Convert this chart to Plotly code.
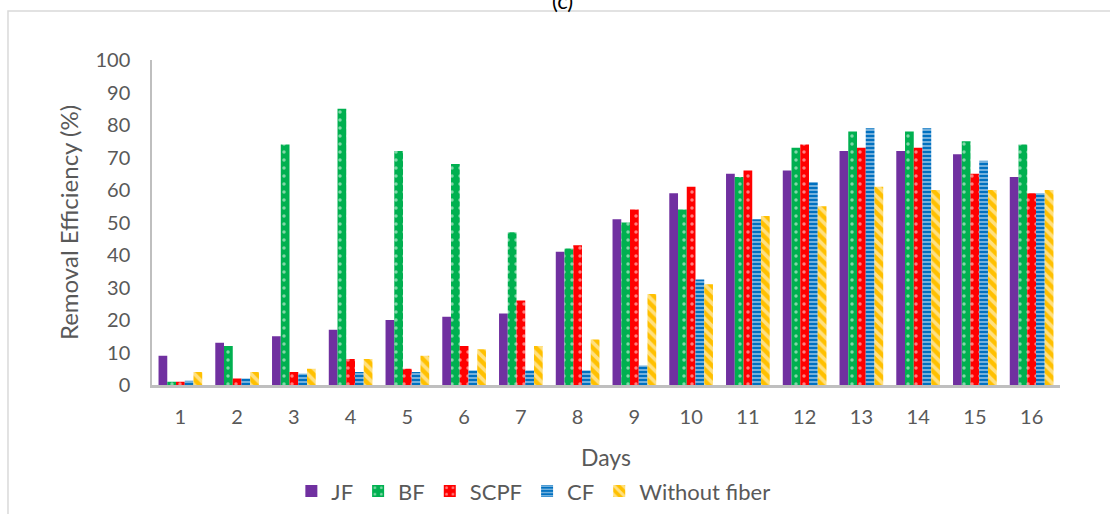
import plotly.graph_objects as go

days = [str(d) for d in range(1, 17)]
jf = [9, 13, 15, 17, 20, 21, 22, 41, 51, 59, 65, 66, 72, 72, 71, 64]
bf = [1, 12, 74, 85, 72, 68, 47, 42, 50, 54, 64, 73, 78, 78, 75, 74]
scpf = [1, 2, 4, 8, 5, 12, 26, 43, 54, 61, 66, 74, 73, 73, 65, 59]
cf = [1.3, 2, 3.5, 4, 4, 4.5, 4.5, 4.5, 6, 32.5, 51, 62.5, 79, 79, 69, 59]
without_fiber = [4, 4, 5, 8, 9, 11, 12, 14, 28, 31, 52, 55, 61, 60, 60, 60]
y_ticks = [0, 10, 20, 30, 40, 50, 60, 70, 80, 90, 100]

FONT = "Lato, Open Sans, sans-serif"
GRAY = "#595959"

fig = go.Figure()
fig.add_bar(x=days, y=jf, name="JF", marker=dict(color="#7030A0", line=dict(width=0)))
fig.add_bar(x=days, y=bf, name="BF",
            marker=dict(color="#00B050", line=dict(width=0),
                        pattern=dict(shape=".", fgcolor="white", size=8, solidity=0.15)))
fig.add_bar(x=days, y=scpf, name="SCPF",
            marker=dict(color="#FF0000", line=dict(width=0),
                        pattern=dict(shape=".", fgcolor="white", size=8, solidity=0.15)))
fig.add_bar(x=days, y=cf, name="CF",
            marker=dict(color="#0070C0", line=dict(width=0),
                        pattern=dict(shape="-", fgcolor="white", size=4, solidity=0.45)))
fig.add_bar(x=days, y=without_fiber, name="Without fiber",
            marker=dict(color="#FFC000", line=dict(width=0),
                        pattern=dict(shape="\\", fgcolor="white", size=8, solidity=0.45)))

fig.update_layout(
    width=1110, height=514,
    margin=dict(l=152, r=50, t=60, b=129, autoexpand=False),
    paper_bgcolor="white", plot_bgcolor="white",
    barmode="group", bargap=0.23, bargroupgap=0,
    font=dict(family=FONT, size=20, color=GRAY),
    legend=dict(orientation="h", x=0.42, xanchor="center", y=-0.262, yanchor="top",
                font=dict(family=FONT, size=22, color=GRAY),
                itemwidth=30, tracegroupgap=0, traceorder="normal"),
    annotations=[dict(text="(c)", xref="paper", yref="paper", x=0.4526, y=1.184,
                      xanchor="center", yanchor="middle", showarrow=False,
                      font=dict(family=FONT, size=22, color="black"))],
    shapes=[dict(type="rect", xref="paper", yref="paper",
                 x0=-0.1586, x1=1.08, y0=-0.45, y1=1.1508,
                 line=dict(color="#D9D9D9", width=1.5), fillcolor="rgba(0,0,0,0)",
                 layer="below")],
)
fig.update_xaxes(
    showgrid=False, showline=True, linecolor="#BFBFBF", linewidth=2.5,
    ticks="", ticklabelstandoff=12, tickfont=dict(size=20, color=GRAY),
    title=dict(text="Days", font=dict(size=23, color=GRAY), standoff=24),
)
fig.update_yaxes(
    range=[0, 100], tickvals=y_ticks, showgrid=False, zeroline=False,
    showline=True, linecolor="#BFBFBF", linewidth=1.5,
    ticks="", ticklabelstandoff=16, tickfont=dict(size=20, color=GRAY),
    title=dict(text="Removal Efficiency (%)", font=dict(size=24, color=GRAY), standoff=10),
)

fig.write_html("out.html", config={"displayModeBar": False},
               post_script="document.body.style.margin='0px';")
